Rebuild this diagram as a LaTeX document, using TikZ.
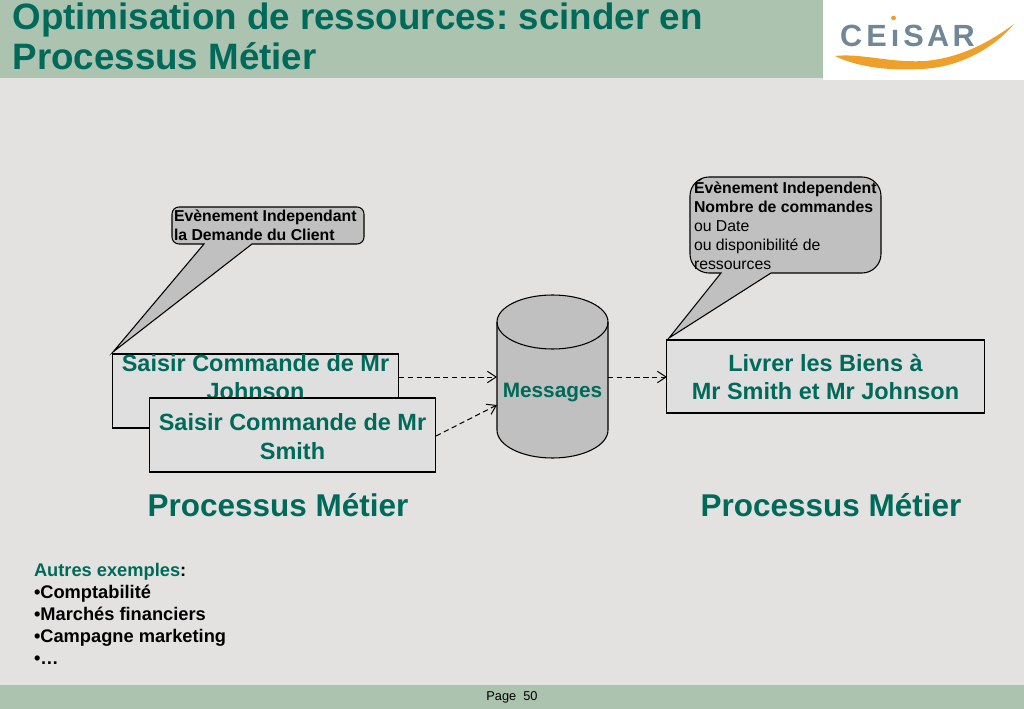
\documentclass[tikz,border=0pt]{standalone}
\usepackage{fontspec}
\setmainfont{Liberation Sans}
\usetikzlibrary{arrows.meta}
\frenchspacing
\definecolor{bg}{HTML}{E3E2E0}
\definecolor{band}{HTML}{ABC3AF}
\definecolor{teal}{HTML}{006A5A}
\definecolor{boxfill}{HTML}{DFDFDF}
\definecolor{shape}{HTML}{C0C0C0}
\definecolor{logoblue}{HTML}{6F8797}
\definecolor{logoorange}{HTML}{EFA02B}
\tikzset{
  x=0.75pt,y=-0.75pt,
  every node/.style={inner sep=0pt,outer sep=0pt},
  procbox/.style={draw=black,fill=boxfill,line width=0.9pt,minimum width=214.5pt,minimum height=55.5pt},
  proctext/.style={font=\fontsize{17.6}{21.6}\selectfont\bfseries,text=teal,align=center},
  calloutshape/.style={draw=black,fill=shape,line width=0.8pt,line join=miter},
  dashflow/.style={draw=black,line width=0.75pt,dash pattern=on 4pt off 2.6pt,-{Straight Barb[length=6.5pt,width=8.5pt,line width=0.75pt]}},
  heading/.style={font=\fontsize{23.6}{28}\selectfont\bfseries,text=teal},
  calltext/.style={font=\fontsize{11.85}{14.25}\selectfont,text=black,align=left,anchor=north west},
}
\begin{document}
\begin{tikzpicture}
\useasboundingbox (0,0) rectangle (1024,709);
\fill[bg] (0,0) rectangle (1024,709);
\fill[band] (0,0) rectangle (1024,78);
\fill[band] (0,685) rectangle (1024,709);
\fill[white] (823,0) rectangle (1024,80);
% title
\node[anchor=north west,font=\fontsize{27.55}{30}\selectfont\bfseries,text=teal,align=left] (title) at (12.5,3) {Optimisation de ressources: scinder en\\Processus Métier};
% logo
\fill[logoorange] (835,56) .. controls (860,53) and (890,63) .. (925,61) .. controls (960,58) and (990,42) .. (1014,24) .. controls (995,47) and (960,68) .. (920,69) .. controls (885,71) and (855,66) .. (835,56) -- cycle;
\fill[logoorange] (893.5,18) circle (2.4);
\node[font=\fontsize{23}{23}\selectfont\bfseries,text=logoblue,anchor=base] (logotext) at (907.5,47) {C\kern3pt E\kern3pt ı\kern3pt S\kern2.5pt A\kern2.5pt R};
% callout left
\draw[calloutshape] (179,207) -- (357,207) arc[start angle=90,end angle=0,radius=5.25pt] -- (364,237) arc[start angle=0,end angle=-90,radius=5.25pt] -- (252,244) -- (113,352) -- (204,244) -- (179,244) arc[start angle=-90,end angle=-180,radius=5.25pt] -- (172,214) arc[start angle=180,end angle=90,radius=5.25pt] -- cycle;
\node[calltext,font=\fontsize{11.85}{14.25}\selectfont\bfseries] (c1) at (174,210) {Evènement Independant\\la Demande du Client};
% callout right
\draw[calloutshape] (709,177) -- (862,177) arc[start angle=90,end angle=0,radius=14.25pt] -- (881,254) arc[start angle=0,end angle=-90,radius=14.25pt] -- (771,273) -- (669,338) -- (721,273) -- (709,273) arc[start angle=-90,end angle=-180,radius=14.25pt] -- (690,196) arc[start angle=180,end angle=90,radius=14.25pt] -- cycle;
\node[calltext] (c2) at (694,179) {\textbf{Évènement Independent}\\\textbf{Nombre de commandes}\\ou Date\\ou disponibilité de\\ressources};
% boxes
\node[procbox] (b1) at (255.5,391) {};
\node[proctext,anchor=north] (t1) at (255.5,354) {Saisir Commande de Mr\\Johnson};
\node[procbox] (b2) at (292.5,435) {};
\node[proctext] (t2) at (292.5,436.5) {Saisir Commande de Mr\\Smith};
\node[procbox,minimum width=238.5pt,minimum height=54.75pt] (b3) at (825.5,376.5) {};
\node[proctext] (t3) at (825.5,377) {Livrer les Biens à\\Mr Smith et Mr Johnson};
% cylinder
\draw[fill=shape,line width=0.8pt] (497,322) -- (497,430) arc[x radius=41.625pt,y radius=21pt,start angle=180,end angle=360] -- (608,322) arc[x radius=41.625pt,y radius=20.25pt,start angle=0,end angle=180] -- cycle;
\draw[line width=0.8pt] (497,322) arc[x radius=41.625pt,y radius=20.25pt,start angle=180,end angle=360];
\node[font=\fontsize{15.6}{18}\selectfont\bfseries,text=teal] (msg) at (552.5,393) {Messages};
\coordinate (cylA) at (497,377);
\coordinate (cylB) at (497,405);
\coordinate (cylC) at (608,377);
\coordinate (s1) at (399,377);
\coordinate (s2) at (436,436);
\coordinate (e3) at (667,377);
\draw[dashflow] (s1) -- (cylA);
\draw[dashflow] (s2) -- (cylB);
\draw[dashflow] (cylC) -- (e3);
% headings
\node[heading] (h1) at (278,505) {Processus Métier};
\node[heading] (h2) at (831,505) {Processus Métier};
% list
\node[anchor=north west,font=\fontsize{13.7}{16.5}\selectfont\bfseries,align=left] (list) at (34,563) {\textcolor{teal}{Autres exemples}:\\•Comptabilité\\•Marchés financiers\\•Campagne marketing\\•…};
% footer
\node[font=\fontsize{9.6}{11}\selectfont] (page) at (512,697) {Page\ \ 50};
\end{tikzpicture}
\end{document}
